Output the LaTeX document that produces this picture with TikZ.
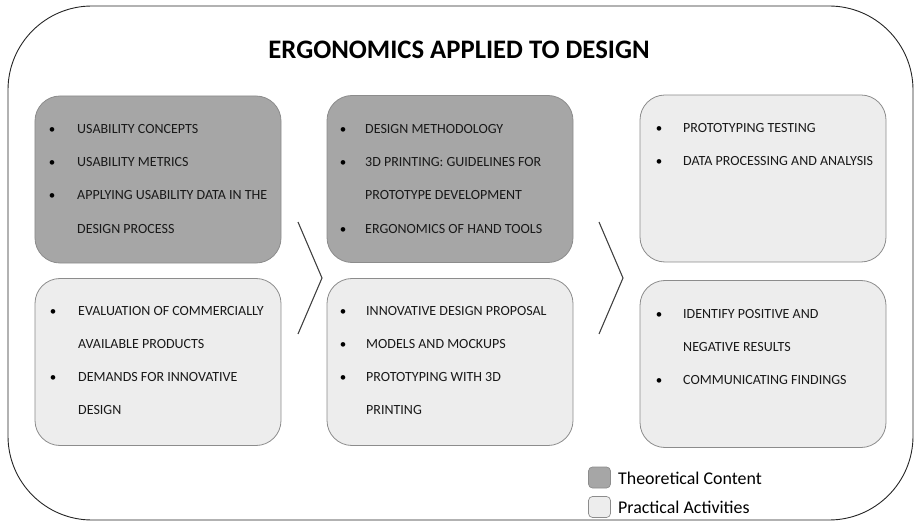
\documentclass[tikz,border=0pt]{standalone}
\usepackage{fontspec}
\setmainfont{Carlito}
\begin{document}
\begin{tikzpicture}[x=1bp,y=-1bp,
  frame/.style={draw=black!85,line width=0.9bp,rounded corners=84bp,
    minimum width=905bp,minimum height=514bp,inner sep=0pt},
  card/.style={draw=black!45,line width=0.8bp,rounded corners=25bp,
    minimum width=246bp,minimum height=167bp,inner sep=0pt},
  theory/.style={card,fill=black!35},
  practice/.style={card,fill=black!7},
  chevron/.style={draw=black!75,line width=1.1bp},
  bul/.style={inner sep=0pt,anchor=base,font=\fontsize{13bp}{15bp}\selectfont},
  itm/.style={inner sep=0pt,anchor=base west,text=black!90,font=\fontsize{14bp}{16bp}\selectfont},
  key/.style={draw=black!45,line width=0.7bp,rounded corners=4bp,
    minimum width=22bp,minimum height=21bp,inner sep=0pt},
  keytext/.style={inner sep=0pt,anchor=west,font=\fontsize{17.9bp}{20bp}\selectfont}]
\useasboundingbox (0,0) rectangle (916,523);

% outer frame and heading
\node[frame] (outer) at (460.5,263) {};
\node[inner sep=0pt,font=\fontsize{26.7bp}{30bp}\selectfont\bfseries] (title) at (459,50) {ERGONOMICS APPLIED TO DESIGN};

% cards
\node[theory]   (lt) at (158,179.5) {};
\node[practice] (lb) at (158,362) {};
\node[theory]   (mt) at (450,179) {};
\node[practice] (mb) at (450,362) {};
\node[practice] (rt) at (763,178.5) {};
\node[practice] (rb) at (763,364) {};

% bullet item: name, bullet x, text x, baseline y, text
\newcommand\bitem[5]{%
  \node[bul] (#1b) at (#2,#4) {\textbullet};
  \node[itm] (#1) at (#3,#4) {#5};}
\newcommand\cont[4]{%
  \node[itm] (#1) at (#2,#3) {#4};}

% left column
\bitem{lt1}{52}{77}{133.5}{USABILITY CONCEPTS}
\bitem{lt2}{52}{77}{166.5}{USABILITY METRICS}
\bitem{lt3}{52}{77}{199.5}{APPLYING USABILITY DATA IN THE}
\cont{lt4}{77}{233.5}{DESIGN PROCESS}
\bitem{lb1}{53}{78}{315.5}{EVALUATION OF COMMERCIALLY}
\cont{lb2}{78}{348.5}{AVAILABLE PRODUCTS}
\bitem{lb3}{53}{78}{381.5}{DEMANDS FOR INNOVATIVE}
\cont{lb4}{78}{414.5}{DESIGN}

% middle column
\bitem{mt1}{343}{365}{133.5}{DESIGN METHODOLOGY}
\bitem{mt2}{343}{365}{166.5}{3D PRINTING: GUIDELINES FOR}
\cont{mt3}{365}{199.5}{PROTOTYPE DEVELOPMENT}
\bitem{mt4}{343}{365}{233.5}{ERGONOMICS OF HAND TOOLS}
\bitem{mb1}{343}{366}{315.5}{INNOVATIVE DESIGN PROPOSAL}
\bitem{mb2}{343}{366}{348.5}{MODELS AND MOCKUPS}
\bitem{mb3}{343}{366}{381.5}{PROTOTYPING WITH 3D}
\cont{mb4}{366}{414.5}{PRINTING}

% right column
\bitem{rt1}{659}{683}{132.5}{PROTOTYPING TESTING}
\bitem{rt2}{659}{683}{165.5}{DATA PROCESSING AND ANALYSIS}
\bitem{rb1}{659}{683}{318.5}{IDENTIFY POSITIVE AND}
\cont{rb2}{683}{351.5}{NEGATIVE RESULTS}
\bitem{rb3}{659}{683}{384.5}{COMMUNICATING FINDINGS}

% step chevrons between columns
\coordinate (c1a) at (298,222);
\coordinate (c1b) at (322,278);
\coordinate (c1c) at (298,334);
\draw[chevron] (c1a) -- (c1b) -- (c1c);
\coordinate (c2a) at (599,222);
\coordinate (c2b) at (623,278);
\coordinate (c2c) at (599,334);
\draw[chevron] (c2a) -- (c2b) -- (c2c);

% legend
\node[key,fill=black!35] (k1) at (599.5,477.5) {};
\node[key,fill=black!7]  (k2) at (599.5,507) {};
\node[keytext] (k1t) at (618,478) {Theoretical Content};
\node[keytext] (k2t) at (618,507) {Practical Activities};
\end{tikzpicture}
\end{document}
